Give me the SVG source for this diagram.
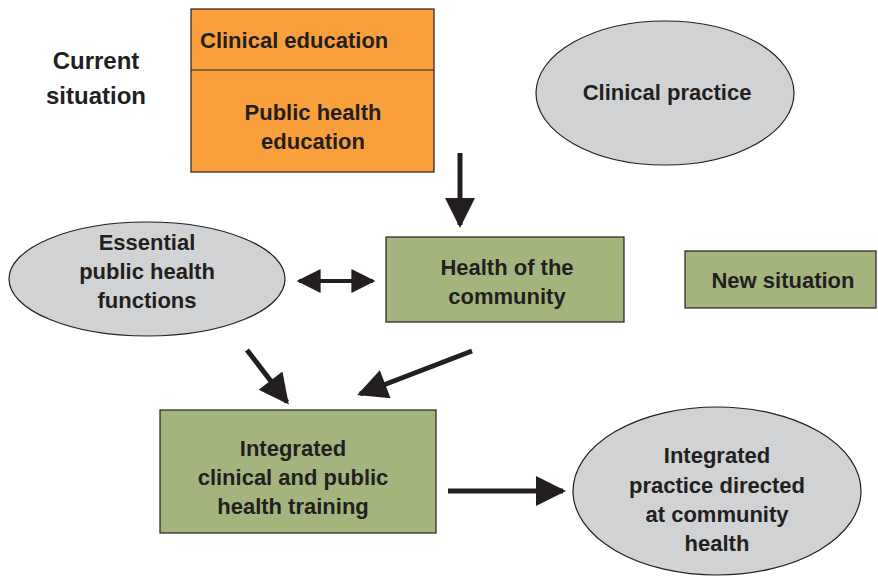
<svg xmlns="http://www.w3.org/2000/svg" width="878" height="576" viewBox="0 0 878 576">
<style>
text{font-family:"Liberation Sans",Arial,sans-serif;font-weight:bold;font-size:22px;fill:#231F20;text-anchor:middle}
.box{stroke:#231F20;stroke-width:1.2}
.or{fill:#F9A03C}
.gr{fill:#A3B57D}
.gy{fill:#D1D2D4}
.ar{stroke:#231F20;stroke-width:5;fill:none}
</style>
<defs>
<marker id="ah" viewBox="0 0 10 10" refX="9" refY="5" markerWidth="6.5" markerHeight="6" markerUnits="strokeWidth" orient="auto-start-reverse">
<path d="M0,0 L10,5 L0,10 z" fill="#231F20"/>
</marker>
</defs>
<g id="label-current">
<text x="96" y="69" style="font-size:24px">Current</text>
<text x="96" y="104" style="font-size:24px">situation</text>
</g>
<g id="education">
<rect class="box or" x="191" y="9" width="243" height="163"/>
<line x1="191" y1="70" x2="434" y2="70" stroke="#231F20" stroke-width="1.2"/>
<text x="200" y="48" style="text-anchor:start">Clinical education</text>
<text x="313" y="120">Public health</text>
<text x="313" y="149">education</text>
</g>
<g id="clinical-practice">
<ellipse class="box gy" cx="665" cy="93" rx="129" ry="72"/>
<text x="667" y="100">Clinical practice</text>
</g>
<g id="essential">
<ellipse class="box gy" cx="147" cy="279" rx="138" ry="57"/>
<text x="147" y="250">Essential</text>
<text x="147" y="279">public health</text>
<text x="147" y="308">functions</text>
</g>
<g id="health-community">
<rect class="box gr" x="386" y="237" width="238" height="85"/>
<text x="507" y="275">Health of the</text>
<text x="507" y="304">community</text>
</g>
<g id="new-situation">
<rect class="box gr" x="685" y="251" width="191" height="57"/>
<text x="783" y="288">New situation</text>
</g>
<g id="integrated-training">
<rect class="box gr" x="160" y="410" width="276" height="123"/>
<text x="293" y="456">Integrated</text>
<text x="293" y="485">clinical and public</text>
<text x="293" y="514">health training</text>
</g>
<g id="integrated-practice">
<ellipse class="box gy" cx="717" cy="491" rx="144" ry="84"/>
<text x="717" y="463">Integrated</text>
<text x="717" y="493">practice directed</text>
<text x="717" y="522">at community</text>
<text x="717" y="551">health</text>
</g>
<g id="connectors">
<line class="ar" x1="460" y1="153" x2="460" y2="225" marker-end="url(#ah)"/>
<line class="ar" x1="299" y1="281" x2="373" y2="281" style="stroke-width:4" marker-start="url(#ah)" marker-end="url(#ah)"/>
<line class="ar" x1="247" y1="350" x2="287" y2="402" marker-end="url(#ah)"/>
<line class="ar" x1="472" y1="351" x2="360" y2="394" marker-end="url(#ah)"/>
<line class="ar" x1="448" y1="491" x2="563" y2="491" marker-end="url(#ah)"/>
</g>
</svg>
